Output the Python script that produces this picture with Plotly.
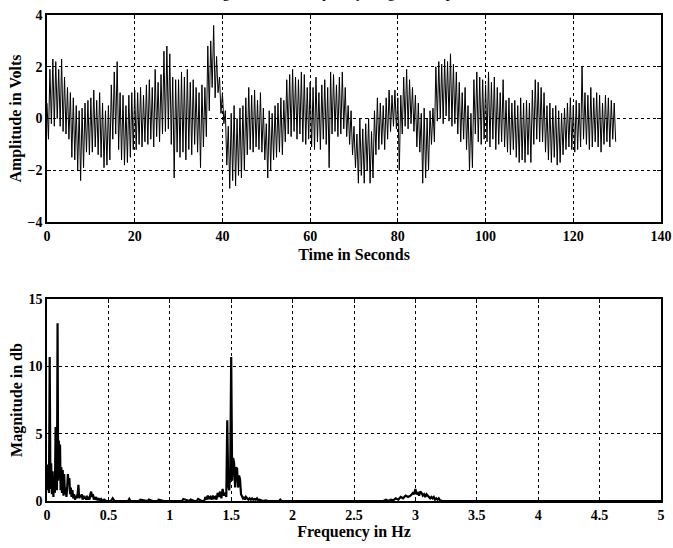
import numpy as np
import plotly.graph_objects as go
from plotly.subplots import make_subplots

# Time signal: one peak and one trough per 1.5 Hz cycle in 10 s blocks
sig_hi = [
    0.6, 1.9, 2.3, 2.2, 1.9, 2.3, 1.6, 1.2, 1.0, 0.8, 0.5, 0.3, 0.4, 0.6, 0.7,      # 0-10
    0.8, 1.1, 0.7, 1.0, 0.6, 0.3, 0.5, 1.3, 1.8, 2.2, 1.0, 0.9, 0.5, 0.9, 1.0,      # 10-20
    1.1, 1.0, 1.2, 0.9, 1.3, 1.5, 1.2, 1.9, 1.4, 1.7, 2.6, 2.8, 2.5, 1.6, 1.5,      # 20-30
    1.5, 1.8, 1.6, 1.9, 1.4, 1.5, 1.2, 1.0, 1.3, 1.2, 2.8, 3.0, 3.6, 2.4, 1.6,      # 30-40
    1.0, 0.3, -0.3, 0.2, 0.5, 0.0, 0.4, 0.5, 0.8, 1.2, 0.9, 1.1, 0.7, 1.0, 0.4,     # 40-50
    -0.2, 0.3, 0.2, 0.5, 0.6, 0.8, 0.7, 1.5, 1.7, 1.9, 1.6, 1.5, 1.8, 1.7, 1.2,     # 50-60
    1.4, 1.2, 1.6, 1.0, 1.3, 1.5, 1.2, 1.8, 1.7, 1.3, 1.6, 1.8, 1.2, 0.5, 0.3,      # 60-70
    -0.3, -0.6, 0.0, -0.4, -0.2, 0.0, -0.5, 0.3, 0.8, 0.6, 0.5, 0.8, 1.1, 0.9, 1.1, # 70-80
    0.8, 0.9, 1.6, 1.9, 1.5, 1.2, 0.9, 0.6, 0.2, 0.4, 0.0, 0.3, 0.4, 2.0, 2.2,      # 80-90
    2.1, 2.3, 2.2, 2.5, 2.1, 1.8, 1.4, 1.0, 1.2, 0.5, 0.2, 1.5, 1.8, 1.6, 1.5,      # 90-100
    1.3, 1.8, 1.4, 1.6, 1.2, 1.0, 1.5, 0.7, 0.8, 0.6, 0.7, 0.5, 0.8, 0.6, 0.7,      # 100-110
    0.6, 1.1, 1.5, 1.4, 1.2, 1.0, 0.5, 0.6, 0.4, 0.5, 0.3, 0.2, 0.4, 0.6, 0.8,      # 110-120
    0.5, 0.7, 0.6, 2.0, 1.0, 0.9, 1.2, 0.8, 1.0, 0.9, 0.6, 0.9, 0.8, 0.7, 0.6,      # 120-130
]
sig_lo = [
    -0.8, -0.2, -0.3, 0.0, -0.3, -0.5, -0.6, -0.8, -1.5, -1.6, -2.0, -2.4, -1.9, -1.3, -1.4,
    -1.3, -1.1, -1.4, -1.5, -1.9, -1.8, -1.6, -0.8, -0.6, -1.2, -1.6, -1.8, -1.7, -1.5, -1.2,
    -1.2, -1.0, -1.1, -0.9, -1.0, -0.8, -1.1, -0.7, -0.9, -0.6, -0.5, -0.4, -1.0, -2.3, -1.3,
    -1.5, -1.3, -1.6, -1.2, -1.4, -1.0, -1.3, -1.9, -1.1, -0.7, 0.3, 1.2, 0.8, 1.0, 0.2,
    -0.2, -1.8, -2.7, -2.4, -2.6, -2.2, -2.3, -2.0, -1.4, -1.2, -1.3, -1.1, -1.2, -1.3, -1.6,
    -2.3, -2.0, -1.6, -1.5, -1.3, -1.4, -0.9, -0.6, -0.7, -0.5, -0.8, -0.6, -0.9, -1.0, -0.8,
    -1.1, -1.2, -0.9, -1.2, -0.8, -1.0, -1.9, -0.6, -0.5, -0.7, -0.6, -0.4, -0.7, -1.0, -1.4,
    -1.9, -2.5, -2.2, -2.5, -2.0, -2.5, -2.3, -1.4, -1.2, -1.0, -1.2, -0.8, -0.5, -0.3, -0.4,
    -2.0, -0.6, -0.3, -0.4, -0.2, -0.5, -1.1, -1.3, -2.5, -2.3, -2.0, -1.0, -0.9, -0.1, 0.0,
    -0.2, 0.1, -0.1, -0.3, -0.2, -0.6, -0.9, -0.8, -1.2, -2.0, -1.9, -0.6, -0.9, -1.0, -0.8,
    -0.9, -1.1, -0.8, -1.2, -1.0, -0.9, -1.1, -1.3, -1.4, -1.2, -1.5, -1.7, -1.6, -1.7, -1.4,
    -1.7, -1.0, -0.8, -0.9, -0.9, -1.3, -1.6, -1.7, -1.5, -1.8, -1.7, -1.4, -1.2, -1.1, -1.2,
    -1.3, -1.2, -1.1, -0.8, -1.0, -1.2, -1.1, -0.9, -1.1, -1.3, -1.0, -0.9, -1.1, -0.8, -0.9,
]

# Spectrum (frequency in Hz, magnitude)
spec_f = [0.0, 0.008, 0.016, 0.022, 0.028, 0.034, 0.040, 0.046, 0.052, 0.058, 0.064,
          0.070, 0.076, 0.081, 0.086, 0.091, 0.096, 0.101, 0.106, 0.111, 0.117, 0.122,
          0.128, 0.134, 0.140, 0.146, 0.152, 0.158, 0.164, 0.170, 0.176, 0.182, 0.188,
          0.194, 0.200, 0.207, 0.214, 0.221, 0.228, 0.235, 0.242, 0.249, 0.256, 0.262,
          0.269, 0.276, 0.283, 0.290, 0.297, 0.304, 0.311, 0.318, 0.325, 0.332, 0.339,
          0.346, 0.353, 0.360, 0.367, 0.374, 0.381, 0.388, 0.396, 0.404, 0.412, 0.420,
          0.430, 0.440, 0.450, 0.465, 0.480, 0.50, 0.52, 0.535, 0.55, 0.60, 0.66, 0.67,
          0.68, 0.72, 0.75, 0.76, 0.80, 0.82, 0.83, 0.86, 0.90, 0.91, 0.95, 1.05, 1.10,
          1.11, 1.16, 1.17, 1.20, 1.22, 1.23, 1.26, 1.28, 1.29, 1.30, 1.31, 1.32, 1.33,
          1.34, 1.35, 1.36, 1.37, 1.38, 1.39, 1.40, 1.41, 1.42, 1.43, 1.44, 1.45, 1.46,
          1.468, 1.476, 1.484, 1.492, 1.500, 1.508, 1.516, 1.524, 1.532, 1.540, 1.548,
          1.556, 1.564, 1.572, 1.580, 1.588, 1.596, 1.604, 1.612, 1.620, 1.630, 1.640,
          1.650, 1.660, 1.670, 1.680, 1.690, 1.700, 1.710, 1.720, 1.730, 1.740, 1.760,
          1.780, 1.80, 1.89, 1.90, 1.91, 2.00, 2.70, 2.72, 2.74, 2.76, 2.78, 2.80, 2.82,
          2.84, 2.86, 2.88, 2.90, 2.92, 2.94, 2.96, 2.98, 2.99, 3.00, 3.01, 3.02, 3.03,
          3.04, 3.05, 3.06, 3.07, 3.08, 3.09, 3.10, 3.11, 3.12, 3.13, 3.14, 3.15, 3.16,
          3.17, 3.18, 3.19, 3.20, 3.22, 5.0]
spec_mag = [0.8, 2.7, 0.6, 10.7, 0.9, 2.8, 0.5, 2.2, 0.3, 1.5, 0.6,
            5.5, 5.0, 0.8, 13.2, 1.5, 4.5, 2.0, 4.2, 0.8, 2.5, 0.6,
            2.3, 0.4, 2.0, 0.5, 1.0, 0.3, 0.9, 2.0, 1.2, 1.7, 0.5,
            1.0, 0.3, 0.8, 0.2, 0.5, 0.1, 0.4, 0.2, 0.5, 1.2, 0.2,
            0.4, 0.3, 0.5, 0.1, 0.4, 0.2, 0.3, 0.1, 0.4, 0.1, 0.3,
            0.1, 0.5, 0.7, 0.3, 0.5, 0.1, 0.3, 0.1, 0.2, 0.05, 0.2,
            0.05, 0.15, 0.0, 0.1, 0.0, 0.0, 0.0, 0.2, 0.0, 0.0, 0.0, 0.15,
            0.0, 0.0, 0.0, 0.1, 0.0, 0.0, 0.1, 0.0, 0.0, 0.1, 0.0, 0.0, 0.0,
            0.15, 0.0, 0.1, 0.0, 0.0, 0.15, 0.0, 0.0, 0.3, 0.1, 0.4, 0.2, 0.3,
            0.1, 0.4, 0.2, 0.3, 0.1, 0.6, 0.3, 0.7, 0.2, 0.9, 0.4, 0.6, 0.3,
            6.0, 1.2, 0.8, 2.0, 10.7, 1.5, 3.2, 2.8, 1.0, 2.5, 2.4,
            1.0, 1.9, 1.6, 0.5, 0.3, 0.2, 0.3, 0.1, 0.3, 0.2, 0.1,
            0.2, 0.1, 0.2, 0.1, 0.15, 0.1, 0.2, 0.05, 0.1, 0.05, 0.0,
            0.05, 0.0, 0.0, 0.1, 0.0, 0.0, 0.0, 0.05, 0.0, 0.1, 0.0, 0.1, 0.05,
            0.2, 0.1, 0.3, 0.2, 0.4, 0.3, 0.4, 0.6, 0.5, 0.9, 0.5, 0.6, 0.4,
            0.7, 0.6, 0.4, 0.5, 0.3, 0.5, 0.4, 0.3, 0.2, 0.3, 0.2, 0.3, 0.1,
            0.2, 0.1, 0.2, 0.05, 0.0, 0.0]

# interleave peaks and troughs, 1/3 s apart
sig = np.empty(len(sig_hi) + len(sig_lo))
sig[0::2] = sig_hi
sig[1::2] = sig_lo
t = np.arange(len(sig)) / 3.0

FONT = "Liberation Serif"
tick_font = dict(family=FONT, size=14, color="black", weight="bold")
title_font = dict(family=FONT, size=16, color="black", weight="bold")

fig = make_subplots(rows=2, cols=1, vertical_spacing=0.0)

fig.add_trace(go.Scatter(x=t, y=sig, mode="lines",
                         line=dict(color="black", width=1)), row=1, col=1)
fig.add_trace(go.Scatter(x=spec_f, y=spec_mag, mode="lines",
                         line=dict(color="black", width=2.2)), row=2, col=1)

axis_style = dict(showline=True, linecolor="black", linewidth=1.5, mirror="ticks",
                  ticks="inside", ticklen=4, tickcolor="black", automargin=False,
                  showgrid=True, gridcolor="black", gridwidth=1, griddash="dot",
                  zeroline=False, tickfont=tick_font)

fig.update_xaxes(axis_style)
fig.update_yaxes(axis_style)

fig.update_xaxes(range=[0, 140], tickvals=list(range(0, 141, 20)), domain=[0, 1],
                 title=dict(text="Time in Seconds", font=title_font, standoff=6),
                 row=1, col=1)
fig.update_yaxes(range=[-4, 4], tickvals=[-4, -2, 0, 2, 4], domain=[0.574, 1.0],
                 title=dict(text="Amplitude in Volts", font=title_font, standoff=2),
                 row=1, col=1)
fig.update_xaxes(range=[0, 5], tickvals=[0, 0.5, 1, 1.5, 2, 2.5, 3, 3.5, 4, 4.5, 5],
                 ticktext=["0", "0.5", "1", "1.5", "2", "2.5", "3", "3.5", "4", "4.5", "5"],
                 domain=[0, 1],
                 title=dict(text="Frequency in Hz", font=title_font, standoff=4),
                 row=2, col=1)
fig.update_yaxes(range=[0, 15], tickvals=[0, 5, 10, 15], domain=[0, 0.4156],
                 title=dict(text="Magnitude in db", font=title_font, standoff=2),
                 row=2, col=1)

# figure title, mostly cut off above the page edge as in the original
fig.add_annotation(text="Signal and its frequency magnitude spectrum",
                   xref="paper", yref="paper", x=0.5, y=1.0, yanchor="bottom",
                   yshift=12, showarrow=False,
                   font=dict(family=FONT, size=16, color="black"))

fig.update_layout(width=673, height=548, showlegend=False,
                  paper_bgcolor="white", plot_bgcolor="white",
                  margin=dict(l=47, r=12, t=15, b=47, autoexpand=False))

# drop the browser's default 8px body margin so the figure sits at the page corner
fig.write_html("out.html", config={"displayModeBar": False},
               post_script="document.body.style.margin='0';")
